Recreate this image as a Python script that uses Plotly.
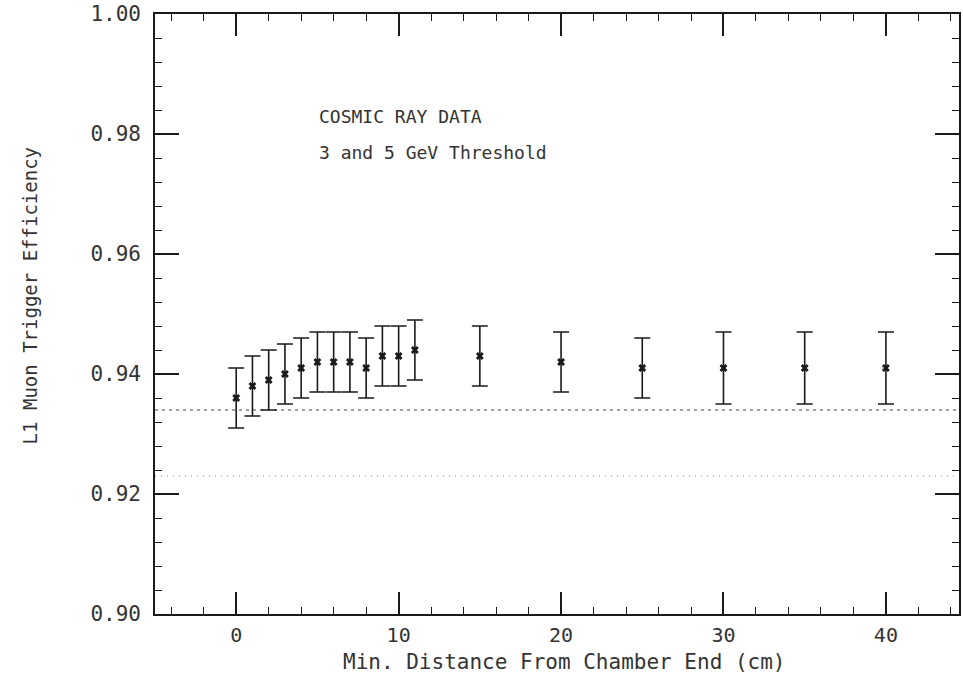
import plotly.graph_objects as go

# Minimum distance from the chamber end (cm)
distance_cm = [0, 1, 2, 3, 4, 5, 6, 7, 8, 9, 10, 11, 15, 20, 25, 30, 35, 40]
# L1 muon trigger efficiency and its uncertainty
efficiency = [0.936, 0.938, 0.939, 0.940, 0.941, 0.942, 0.942, 0.942, 0.941,
              0.943, 0.943, 0.944, 0.943, 0.942, 0.941, 0.941, 0.941, 0.941]
efficiency_err = [0.005, 0.005, 0.005, 0.005, 0.005, 0.005, 0.005, 0.005, 0.005,
                  0.005, 0.005, 0.005, 0.005, 0.005, 0.005, 0.006, 0.006, 0.006]

# Horizontal reference levels (dotted)
reference_levels = [0.934, 0.923]
reference_dash = ["3px,4px", "1px,5px"]
reference_color = ["#444444", "#888888"]

x_range = [-5, 44.5]
y_range = [0.90, 1.00]

notes = ["COSMIC RAY DATA", "3 and 5 GeV Threshold"]
note_y = [0.983, 0.977]
note_x = 5

x_title = "Min. Distance From Chamber End (cm)"
y_title = "L1 Muon Trigger Efficiency"

FONT = "DejaVu Sans Mono"
INK = "#1a1a1a"
TEXT = "#333333"

fig = go.Figure()

for level, dash, col in zip(reference_levels, reference_dash, reference_color):
    fig.add_shape(type="line", xref="paper", x0=0, x1=1, yref="y", y0=level, y1=level,
                  line=dict(color=col, width=1.2, dash=dash), layer="below")

fig.add_trace(go.Scatter(
    x=distance_cm, y=efficiency, mode="markers",
    marker=dict(symbol="x", size=7, color=INK),
    error_y=dict(type="data", array=efficiency_err, visible=True,
                 color=INK, thickness=1.6, width=8),
    showlegend=False,
))

for text, yv in zip(notes, note_y):
    fig.add_annotation(x=note_x, y=yv, xref="x", yref="y", text=text, showarrow=False,
                       xanchor="left", yanchor="middle",
                       font=dict(family=FONT, size=18, color=TEXT))

fig.add_annotation(x=0.509, y=-0.08, xref="paper", yref="paper", text=x_title,
                   showarrow=False, xanchor="center", yanchor="middle",
                   font=dict(family=FONT, size=21, color=TEXT))
fig.add_annotation(x=-0.155, y=0.53, xref="paper", yref="paper", text=y_title,
                   showarrow=False, xanchor="center", yanchor="middle", textangle=-90,
                   font=dict(family=FONT, size=19, color=TEXT))

fig.update_xaxes(
    range=x_range, tickmode="linear", tick0=0, dtick=10,
    ticks="inside", ticklen=22, tickwidth=1.5,
    tickcolor=INK, showline=True, linecolor=INK, linewidth=1.6, mirror="ticks",
    showgrid=False, zeroline=False, ticklabelstandoff=2,
    tickfont=dict(family=FONT, size=20, color=TEXT),
    minor=dict(dtick=2, tick0=0, ticks="inside", ticklen=7, tickwidth=1.1,
               tickcolor=INK, showgrid=False),
)
fig.update_yaxes(
    range=y_range, tickmode="linear", tick0=0.90, dtick=0.02, tickformat=".2f",
    ticks="inside", ticklen=24, tickwidth=1.5, tickcolor=INK, showline=True,
    linecolor=INK, linewidth=1.6, mirror="ticks", showgrid=False, zeroline=False,
    ticklabelstandoff=8,
    tickfont=dict(family=FONT, size=21, color=TEXT),
    minor=dict(dtick=0.004, tick0=0.90, ticks="inside", ticklen=7, tickwidth=1.1,
               tickcolor=INK, showgrid=False),
)

fig.update_layout(
    width=963, height=676,
    margin=dict(l=155, r=2, t=14, b=62),
    paper_bgcolor="white", plot_bgcolor="white",
    showlegend=False,
)

fig.write_html("out.html")
